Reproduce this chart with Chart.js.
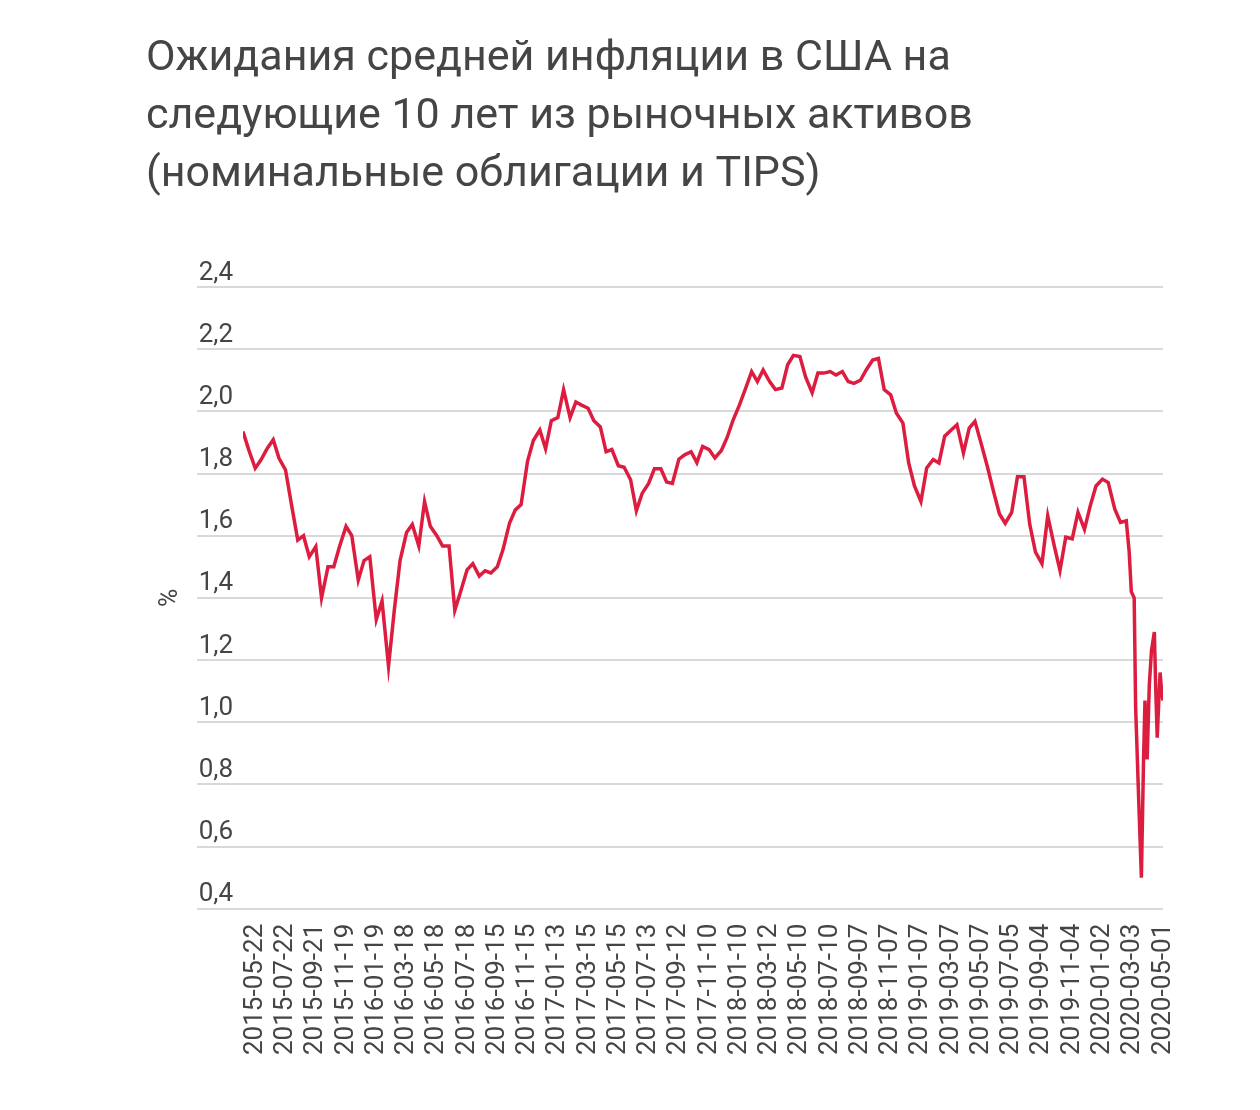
<!DOCTYPE html>
<html lang="ru">
<head>
<meta charset="utf-8">
<title>Ожидания средней инфляции в США</title>
<script src="https://cdn.jsdelivr.net/npm/chart.js@4.4.1/dist/chart.umd.min.js"></script>
<style>
  html, body { margin: 0; padding: 0; background: #fff; }
  .wrap { width: 1260px; height: 1110px; position: relative; }
</style>
</head>
<body>
<div class="wrap"><canvas id="myChart"></canvas></div>
<script>
// tick labels, one every 42 trading days, the last one is the last reading
const tickLabels = [
  "2015-05-22", "2015-07-22", "2015-09-21", "2015-11-19", "2016-01-19", "2016-03-18",
  "2016-05-18", "2016-07-18", "2016-09-15", "2016-11-15", "2017-01-13", "2017-03-15",
  "2017-05-15", "2017-07-13", "2017-09-12", "2017-11-10", "2018-01-10", "2018-03-12",
  "2018-05-10", "2018-07-10", "2018-09-07", "2018-11-07", "2019-01-07", "2019-03-07",
  "2019-05-07", "2019-07-05", "2019-09-04", "2019-11-04", "2020-01-02", "2020-03-03",
  "2020-05-01"
];
const daysPerTick = 42;
const firstTickDay = 17;

// trading day of each reading (0 = first reading in the chart)
const days = [
  0, 8, 17, 25, 34,          42, 50, 59, 67, 76,
  84, 92, 101, 109, 118,     126, 134, 143, 151, 160,
  168, 176, 185, 193, 202,   210, 218, 227, 235, 244,
  252, 260, 269, 277, 286,   294, 302, 311, 319, 328,
  336, 344, 353, 361, 370,   378, 386, 395, 403, 412,
  420, 428, 437, 445, 454,   462, 470, 479, 487, 496,
  504, 512, 521, 529, 538,   546, 554, 563, 571, 580,
  588, 596, 605, 613, 622,   630, 638, 647, 655, 664,
  672, 680, 689, 697, 706,   714, 722, 731, 739, 748,
  756, 764, 773, 781, 790,   798, 806, 815, 823, 832,
  840, 848, 857, 865, 874,   882, 890, 899, 907, 916,
  924, 932, 941, 949, 958,   966, 974, 983, 991, 1000,
  1008, 1016, 1025, 1033, 1042, 1050, 1058, 1067, 1075, 1084,
  1092, 1100, 1109, 1117, 1126, 1134, 1142, 1151, 1159, 1168,
  1176, 1184, 1193, 1201, 1210, 1218, 1226,
  1230, 1233, 1237, 1239, 1244, 1247, 1250, 1252, 1255,
  1258, 1261, 1265, 1267, 1269, 1271, 1273, 1275, 1277
];

// 10-year breakeven inflation, %
const values = [
  1.935, 1.876, 1.817, 1.844, 1.882,  1.909, 1.849, 1.812, 1.704, 1.586,
  1.60, 1.532, 1.565, 1.40, 1.50,     1.50, 1.565, 1.63, 1.60, 1.457,
  1.52, 1.532, 1.33, 1.39, 1.18,      1.36, 1.52, 1.61, 1.636, 1.567,
  1.71, 1.63, 1.60, 1.567, 1.567,     1.36, 1.42, 1.49, 1.51, 1.47,
  1.487, 1.48, 1.50, 1.556, 1.641,    1.683, 1.70, 1.84, 1.906, 1.94,
  1.88, 1.97, 1.98, 2.07, 1.98,       2.03, 2.02, 2.01, 1.97, 1.95,
  1.87, 1.877, 1.825, 1.82, 1.78,     1.68, 1.736, 1.768, 1.815, 1.815,
  1.773, 1.768, 1.846, 1.86, 1.87,    1.835, 1.887, 1.877, 1.85, 1.874,
  1.916, 1.97, 2.02, 2.07, 2.128,     2.096, 2.133, 2.096, 2.07, 2.075,
  2.15, 2.18, 2.176, 2.11, 2.06,      2.123, 2.123, 2.128, 2.117, 2.128,
  2.096, 2.09, 2.10, 2.133, 2.165,    2.17, 2.07, 2.053, 1.994, 1.962,
  1.834, 1.76, 1.71, 1.818, 1.845,    1.834, 1.92, 1.94, 1.957, 1.866,
  1.946, 1.968, 1.893, 1.824, 1.74,   1.67, 1.64, 1.675, 1.79, 1.79,
  1.637, 1.547, 1.51, 1.664, 1.568,   1.488, 1.595, 1.59, 1.675, 1.62,
  1.696, 1.76, 1.782, 1.771, 1.686,   1.643, 1.648,
  1.55, 1.42, 1.40, 1.05, 0.70, 0.50, 0.88, 1.07, 0.88,
  1.12, 1.23, 1.29, 1.10, 0.95, 1.06, 1.16, 1.10, 1.07
];

const textColor = "#454545";
const gridColor = "#d9d9d9";
const lineColor = "#dc1d3f";

const ctx = document.getElementById("myChart").getContext("2d");
const myChart = new Chart(ctx, {
  type: "line",
  data: {
    datasets: [{
      data: days.map((d, i) => ({x: d, y: values[i]})),
      borderColor: lineColor,
      borderWidth: 3.5,
      pointRadius: 0,
      tension: 0,
      fill: false
    }]
  },
  options: {
    responsive: true,
    maintainAspectRatio: false,
    animation: false,
    layout: {padding: {left: 146, right: 97, top: 0, bottom: 48}},
    plugins: {
      legend: {display: false},
      tooltip: {enabled: false},
      title: {
        display: true,
        align: "start",
        text: [
          "Ожидания средней инфляции в США на",
          "следующие 10 лет из рыночных активов",
          "(номинальные облигации и TIPS)"
        ],
        color: textColor,
        font: {family: "Roboto", size: 43, weight: "normal", lineHeight: "58px"},
        padding: {top: 30, bottom: 83}
      }
    },
    scales: {
      x: {
        type: "linear",
        min: days[0],
        max: days[days.length - 1],
        grid: {display: false},
        border: {display: false},
        afterBuildTicks: (scale) => {
          scale.ticks = tickLabels.map((_, i) => ({value: firstTickDay + i * daysPerTick}));
        },
        ticks: {
          autoSkip: false,
          maxRotation: 90,
          minRotation: 90,
          padding: 7,
          color: textColor,
          font: {family: "Roboto", size: 26},
          callback: (v) => tickLabels[Math.round((v - firstTickDay) / daysPerTick)]
        }
      },
      y: {
        min: 0.4,
        max: 2.4,
        border: {display: false},
        grid: {color: gridColor, lineWidth: 2, tickLength: 46},
        afterFit: (scale) => { scale.width = 97; },
        title: {
          display: true,
          text: "%",
          color: textColor,
          font: {family: "Roboto", size: 25},
          padding: {top: 10, bottom: 0}
        },
        ticks: {
          stepSize: 0.2,
          padding: -36,
          labelOffset: -14,
          color: textColor,
          font: {family: "Roboto", size: 26},
          callback: (v) => v.toFixed(1).replace(".", ",")
        }
      }
    }
  }
});
</script>
</body>
</html>
